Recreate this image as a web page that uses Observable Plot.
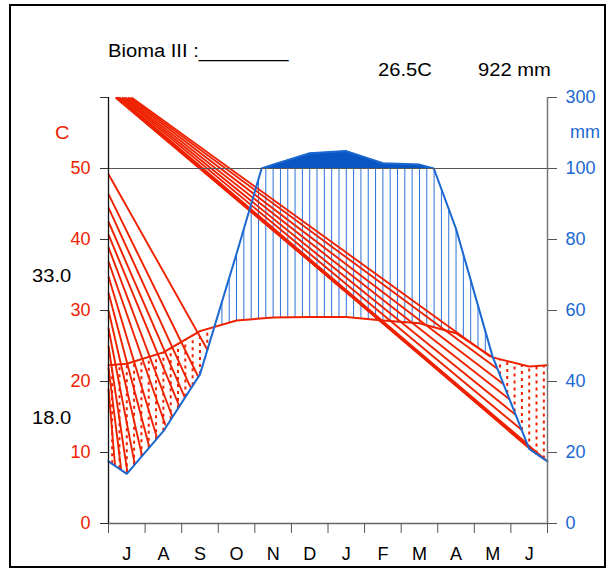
<!DOCTYPE html>
<html><head><meta charset="utf-8">
<script src="https://cdn.jsdelivr.net/npm/d3@7"></script>
<script src="https://cdn.jsdelivr.net/npm/@observablehq/plot@0.6"></script>
<style>
body{margin:0;background:#fff;font-family:"Liberation Sans",Arial,sans-serif;}
#wrap{position:relative;width:610px;height:570px;overflow:hidden;}
#chart{position:absolute;left:0;top:0;}
.frame{position:absolute;left:9px;top:4px;width:593px;height:560px;border:2px solid #000;}
.t{position:absolute;font-size:18px;white-space:nowrap;line-height:1;color:#000;transform:scaleX(1.12);transform-origin:left center;}
</style></head><body>
<div id="wrap">
<div id="chart"></div>
<div class="frame"></div>
<div class="t" style="left:108px;top:42px">Bioma III :________</div>
<div class="t" style="left:378px;top:61px">26.5C</div>
<div class="t" style="left:478px;top:61px">922 mm</div>
<div class="t" style="left:55px;top:124px;color:#ee2200">C</div>
<div class="t" style="left:570px;top:123px;color:#1a68d0;transform:none">mm</div>
<div class="t" style="left:32px;top:267px">33.0</div>
<div class="t" style="left:32px;top:409px">18.0</div>
</div>
<script>
// ---- data ----
const months = ["J","A","S","O","N","D","J","F","M","A","M","J"];
const temperature = [22.5, 24.1, 27.1, 28.6, 29.0, 29.1, 29.1, 28.6, 28.2, 26.8, 23.4, 22.1]; // °C
const precipitation = [14, 26, 42, 76, 111, 143, 149, 115, 111, 83, 47, 21]; // mm
const tempTicks = [0, 10, 20, 30, 40, 50, 60];
const precipTickLabels = ["0", "20", "40", "60", "80", "100", "300"];
// stray red hatch strokes of the original (month position, °C)
const leftStrayStartC = [49.2, 46.4, 44.5, 42.5, 40.7, 38.9, 36.9, 34.8, 32.5, 30.0, 27.5, 25.0, 22.0, 19.0];
const leftStrayEndMonth = [2.71, 2.46, 2.24, 2.09, 1.93, 1.74, 1.56, 1.33, 1.12, 0.92, 0.72, 0.52, 0.35, 0.18];
const leftStrayEndC = [24.4, 20.6, 19.2, 17.7, 16.6, 15.1, 13.8, 12.0, 10.7, 9.5, 8.3, 7.1, 7.5, 8.1];
const rightStrayStartMonth = [0.63, 0.57, 0.52, 0.46, 0.41, 0.36, 0.30, 0.27, 0.25, 0.22, 0.21, 0.19];
const rightStrayEndMonth = [10.44, 10.63, 10.80, 10.96, 11.13, 11.29, 11.45, 11.59, 11.70, 11.81, 11.92, 12.0];
const rightStrayEndC = [23.5, 21.8, 19.6, 17.5, 15.3, 13.2, 11.2, 10.2, 9.8, 9.4, 9.0, 8.75];

const RED = "#ee2200", BLUE = "#1a68d0", FILLBLUE = "#0a55c4", HATCHBLUE = "#2c72d8";

// precipitation (mm) -> temperature-scale units (20 mm = 10 °C up to 100 mm, compressed above)
const pScale = p => p <= 100 ? p / 2 : 50 + (p - 100) / 20;

const edgeT = (temperature[11] + temperature[0]) / 2;
const edgeP = (precipitation[11] + precipitation[0]) / 2;
const tSeries = [{x: 0, v: edgeT}, ...temperature.map((v, i) => ({x: i + 0.5, v})), {x: 12, v: edgeT}];
const pRaw = [{x: 0, p: edgeP}, ...precipitation.map((p, i) => ({x: i + 0.5, p})), {x: 12, p: edgeP}];
const pLine = [];
pRaw.forEach((d, i) => {
  if (i > 0) {
    const a = pRaw[i - 1];
    if ((a.p - 100) * (d.p - 100) < 0) {
      const f = (100 - a.p) / (d.p - a.p);
      pLine.push({x: a.x + f * (d.x - a.x), p: 100});
    }
  }
  pLine.push(d);
});
pLine.forEach(d => d.v = pScale(d.p));

function at(series, x) {
  for (let i = 1; i < series.length; i++) {
    const a = series[i - 1], b = series[i];
    if (x >= a.x && x <= b.x) return a.v + (b.v - a.v) * (x - a.x) / (b.x - a.x);
  }
  return series[series.length - 1].v;
}
const hatch = d3.range(60).map(i => {
  const x = 0.1 + 0.2 * i;
  return {x, t: at(tSeries, x), p: at(pLine, x)};
});
const humid = hatch.filter(d => d.p > d.t);
const arid = hatch.filter(d => d.p <= d.t);

const stray = [
  ...leftStrayStartC.map((c, i) => ({x1: 0, y1: c, x2: leftStrayEndMonth[i], y2: leftStrayEndC[i]})),
  ...rightStrayStartMonth.map((m, i) => ({x1: m, y1: 60, x2: rightStrayEndMonth[i], y2: rightStrayEndC[i]}))
];

const chart = Plot.plot({
  width: 610, height: 570,
  marginLeft: 108, marginRight: 63, marginTop: 97, marginBottom: 47,
  x: {domain: [0, 12]},
  y: {domain: [0, 60]},
  style: {fontFamily: '"Liberation Sans", Arial, sans-serif', background: "transparent", overflow: "visible"},
  marks: [
    Plot.areaY(pLine, {x: "x", y1: 50, y2: d => Math.max(50, d.v), fill: FILLBLUE}),
    Plot.ruleX(humid, {x: "x", y1: "t", y2: d => Math.min(d.p, 50), stroke: HATCHBLUE, strokeWidth: 1}),
    Plot.ruleX(arid, {x: "x", y1: "p", y2: "t", stroke: RED, strokeWidth: 2, strokeDasharray: "3,4"}),
    Plot.link(stray, {x1: "x1", y1: "y1", x2: "x2", y2: "y2", stroke: RED, strokeWidth: 1.9}),
    Plot.line(tSeries, {x: "x", y: "v", stroke: RED, strokeWidth: 2}),
    Plot.line(pLine, {x: "x", y: "v", stroke: BLUE, strokeWidth: 2}),
    Plot.ruleY([50], {stroke: "#555", strokeWidth: 1.2}),
    Plot.ruleY([0], {stroke: "#666", strokeWidth: 1.5}),
    Plot.ruleX([0], {stroke: "#111", strokeWidth: 1.3}),
    Plot.ruleX([12], {stroke: "#777", strokeWidth: 1.5}),
    Plot.axisY(tempTicks, {anchor: "left", tickSize: 8, tickPadding: 10, tickFormat: d => d === 60 ? "" : String(d),
      color: RED, stroke: "#333", fontSize: 18, label: null}),
    Plot.axisY(tempTicks, {anchor: "right", tickSize: 9, tickPadding: 9, tickFormat: d => precipTickLabels[tempTicks.indexOf(d)],
      color: BLUE, stroke: "#555", fontSize: 18, label: null}),
    Plot.axisX(d3.range(13), {anchor: "bottom", tickSize: 10, tickFormat: () => "", stroke: "#555", label: null}),
    Plot.axisX(months.map((m, i) => i + 0.5), {anchor: "bottom", tickSize: 0, tickPadding: 24,
      tickFormat: d => months[Math.floor(d)], color: "#000", fontSize: 18, label: null})
  ]
});
document.getElementById("chart").appendChild(chart);
</script>
</body></html>
